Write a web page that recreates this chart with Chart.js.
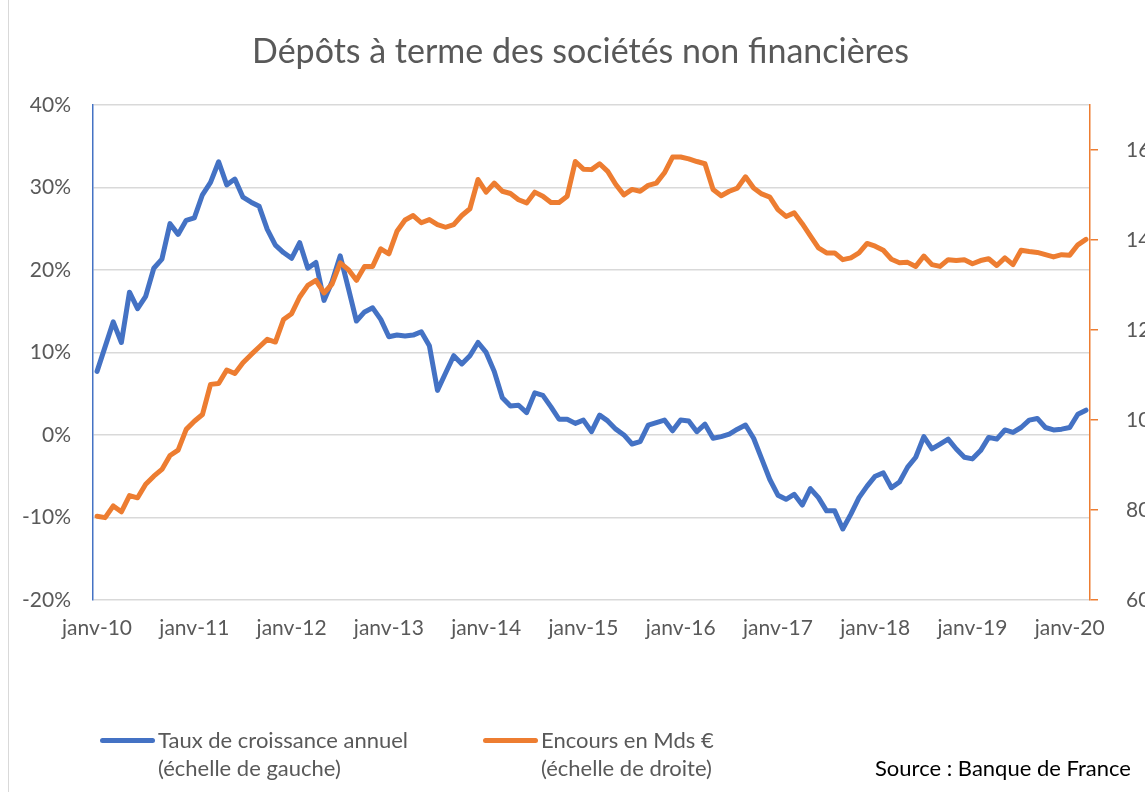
<!DOCTYPE html>
<html lang="fr">
<head>
<meta charset="utf-8">
<title>Dépôts à terme des sociétés non financières</title>
<script src="https://cdn.jsdelivr.net/npm/chart.js@4.4.1/dist/chart.umd.min.js"></script>
<style>
    html, body { margin: 0; padding: 0; background: #ffffff; }
    #wrap { position: relative; width: 1145px; height: 792px; overflow: hidden; font-family: 'Lato', 'Noto Sans', sans-serif; }
    #wrap canvas { position: absolute; left: 0; top: 0; }
    #frame { position: absolute; left: 8px; top: 0; width: 1px; height: 792px; background: #d9d9d9; }
    .leg { position: absolute; color: #595959; font-size: 22px; line-height: 28px; white-space: nowrap; }
    .swatch { position: absolute; height: 5px; border-radius: 3px; }
    #source { position: absolute; left: 875px; top: 754px; color: #000000; font-size: 22px; line-height: 28px; white-space: nowrap; }
</style>
</head>
<body>
<div id="wrap">
    <div id="frame"></div>
    <canvas id="chart" width="1145" height="792"></canvas>
    <div id="legend"></div>
    <div id="source">Source : Banque de France</div>
</div>
<script>
const mois = ['janv', 'févr', 'mars', 'avr', 'mai', 'juin', 'juil', 'août', 'sept', 'oct', 'nov', 'déc'];
const annees = ['10', '11', '12', '13', '14', '15', '16', '17', '18', '19', '20'];

// taux de croissance annuel, en %, janv-10 -> mars-20 (échelle de gauche)
const tauxCroissance = [
    7.7, 10.7, 13.7, 11.2, 17.3, 15.3, 16.8, 20.2, 21.3, 25.6, 24.3, 26.0,
    26.3, 29.1, 30.6, 33.1, 30.3, 31.0, 28.8, 28.2, 27.7, 24.9, 23.0, 22.1,
    21.4, 23.3, 20.2, 20.9, 16.3, 18.6, 21.7, 17.8, 13.8, 14.9, 15.4, 14.0,
    11.9, 12.1, 12.0, 12.1, 12.5, 10.8, 5.4, 7.5, 9.6, 8.6, 9.6, 11.2,
    10.0, 7.7, 4.5, 3.5, 3.6, 2.7, 5.1, 4.8, 3.4, 1.9, 1.9, 1.4,
    1.8, 0.4, 2.4, 1.7, 0.7, 0.0, -1.1, -0.8, 1.2, 1.5, 1.8, 0.5,
    1.8, 1.7, 0.4, 1.3, -0.4, -0.2, 0.1, 0.7, 1.2, -0.4, -2.9, -5.4,
    -7.3, -7.8, -7.2, -8.5, -6.5, -7.6, -9.2, -9.2, -11.4, -9.6, -7.6, -6.2,
    -5.0, -4.6, -6.4, -5.7, -3.9, -2.7, -0.2, -1.7, -1.1, -0.5, -1.7, -2.7,
    -2.9, -1.9, -0.3, -0.5, 0.6, 0.3, 0.9, 1.8, 2.0, 0.9, 0.6, 0.7,
    0.9, 2.5, 3.0
];

// encours en Mds €, janv-10 -> mars-20 (échelle de droite)
const encours = [
    78.6, 78.3, 80.9, 79.6, 83.2, 82.7, 85.7, 87.5, 89.0, 92.1, 93.3, 97.9,
    99.7, 101.2, 107.9, 108.1, 111.1, 110.3, 112.7, 114.5, 116.2, 117.9, 117.3, 122.3,
    123.6, 127.3, 129.9, 131.0, 128.2, 130.2, 134.9, 133.4, 131.0, 134.1, 134.1, 138.0,
    136.9, 141.9, 144.4, 145.4, 143.8, 144.5, 143.4, 142.8, 143.4, 145.4, 146.9, 153.4,
    150.6, 152.6, 150.8, 150.3, 148.9, 148.2, 150.6, 149.7, 148.3, 148.3, 149.7, 157.4,
    155.7, 155.6, 156.9, 155.2, 152.3, 150.0, 151.2, 150.8, 152.1, 152.6, 154.9, 158.4,
    158.4, 158.0, 157.4, 156.9, 151.2, 149.8, 150.8, 151.5, 154.0, 151.5, 150.2, 149.5,
    146.7, 145.2, 146.0, 143.6, 140.9, 138.2, 137.1, 137.1, 135.6, 136.0, 137.1, 139.2,
    138.6, 137.7, 135.7, 134.9, 135.0, 134.1, 136.4, 134.5, 134.1, 135.6, 135.4, 135.6,
    134.7, 135.4, 135.8, 134.3, 136.0, 134.5, 137.7, 137.4, 137.2, 136.7, 136.2, 136.7,
    136.6, 138.9, 140.1
];

const labels = [];
annees.forEach(a => mois.forEach(m => labels.push(`${m}-${a}`)));
labels.length = tauxCroissance.length;

const series = [
    { label: 'Taux de croissance annuel', sub: '(échelle de gauche)', data: tauxCroissance, color: '#4472C4', axis: 'y', order: 1 },
    { label: 'Encours en Mds €', sub: '(échelle de droite)', data: encours, color: '#ED7D31', axis: 'y1', order: 0 }
];

const gris = '#595959';
const police = "'Lato', 'Noto Sans', sans-serif";
Chart.defaults.font = { ...Chart.defaults.font, family: police };
Chart.defaults.color = gris;

const config = {
    type: 'line',
    data: {
        labels: labels,
        datasets: series.map(s => ({
            label: s.label,
            data: s.data,
            yAxisID: s.axis,
            borderColor: s.color,
            backgroundColor: s.color,
            borderWidth: 5,
            pointRadius: 0,
            tension: 0,
            borderJoinStyle: 'round',
            borderCapStyle: 'round',
            order: s.order
        }))
    },
    options: {
        responsive: false,
        animation: false,
        layout: { padding: { left: 16, right: 0, top: 0, bottom: 152 } },
        plugins: {
            legend: { display: false },
            tooltip: { enabled: false },
            title: {
                display: true,
                text: 'Dépôts à terme des sociétés non financières',
                color: gris,
                font: { size: 34, weight: 'normal', family: police },
                padding: { top: 32, bottom: 32 }
            }
        },
        scales: {
            x: {
                offset: true,
                grid: { display: false, drawTicks: false },
                border: { display: false },
                ticks: {
                    autoSkip: false,
                    maxRotation: 0,
                    padding: 16,
                    color: gris,
                    font: { size: 21 },
                    callback: function (value) {
                        const l = this.getLabelForValue(value);
                        return l.startsWith('janv') ? l : null;
                    }
                },
                afterFit: scale => { scale.height = 40; }
            },
            y: {
                position: 'left',
                min: -20,
                max: 40,
                grid: { color: '#d9d9d9', lineWidth: 1.5, drawTicks: false },
                border: { color: '#4472C4', width: 1.5 },
                ticks: {
                    stepSize: 10,
                    padding: 22,
                    color: gris,
                    font: { size: 21 },
                    callback: v => `${v}%`
                },
                afterFit: scale => { scale.width = 77; }
            },
            y1: {
                position: 'right',
                min: 60,
                max: 170,
                grid: { drawOnChartArea: false, drawTicks: true, tickLength: 8, color: '#ED7D31', lineWidth: 1.5 },
                border: { color: '#ED7D31', width: 1.5 },
                ticks: { stepSize: 20, padding: 28, color: gris, font: { size: 21 } },
                afterBuildTicks: axis => { axis.ticks = axis.ticks.filter(t => t.value <= 160); },
                afterFit: scale => { scale.width = 55; }
            }
        }
    }
};

const ctx = document.getElementById('chart');
const myChart = new Chart(ctx, config);

// légende sur deux lignes, comme dans l'original
const legend = document.getElementById('legend');
const positions = [100, 483];
series.forEach((s, i) => {
    const x = positions[i];
    legend.insertAdjacentHTML('beforeend',
        `<div class="swatch" style="left:${x}px; top:738px; width:55px; background:${s.color};"></div>` +
        `<div class="leg" style="left:${x + 58}px; top:726px;">${s.label}<br>${s.sub}</div>`);
});
</script>
</body>
</html>
